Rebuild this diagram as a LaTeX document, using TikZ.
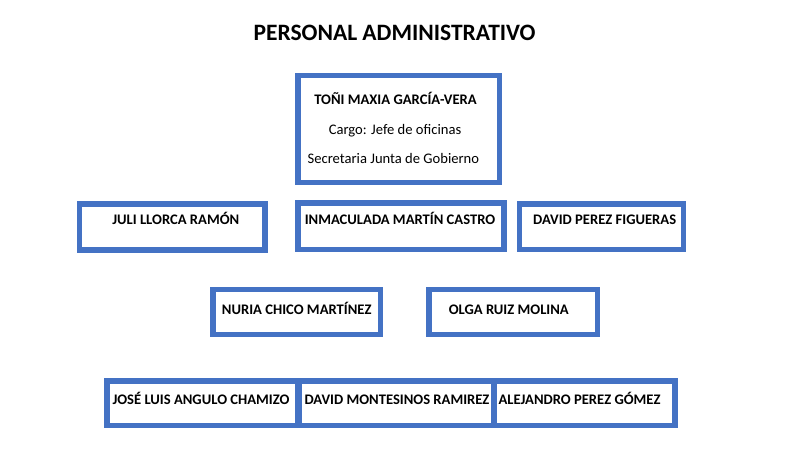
\documentclass[tikz,border=0pt]{standalone}
\usepackage{fontspec}
\setmainfont{Carlito}
\usepackage{tikz}
\usepackage{xcolor}
\definecolor{boxblue}{HTML}{4472C4}

\begin{document}
\begin{tikzpicture}[x=1pt, y=-1pt, box node/.style={rectangle, draw=boxblue, line width=5.5pt, inner sep=0pt}, name node/.style={anchor=base, inner sep=0pt, font=\fontsize{14.6}{17}\selectfont\bfseries}, info node/.style={anchor=base, inner sep=0pt, font=\fontsize{14.6}{17}\selectfont}]
\useasboundingbox (0,0) rectangle (789,459);
\node[anchor=base, inner sep=0pt, font=\fontsize{23.5}{28}\selectfont\bfseries] (title) at (394.5,40) {PERSONAL ADMINISTRATIVO};
% jefa
\node[box node, minimum width=201.5, minimum height=106.8] (toni) at (398.5,128.9) {};
\node[name node] (toni1) at (395.5,104) {TOÑI MAXIA GARCÍA-VERA};
\node[info node] (toni2) at (395,134.3) {Cargo: Jefe de oficinas};
\node[info node] (toni3) at (393.4,163.3) {Secretaria Junta de Gobierno};
% fila 2
\node[box node, minimum width=185.5, minimum height=46.2] (juli) at (172.2,226.9) {};
\node[box node, minimum width=206.2, minimum height=46.5] (inma) at (400.9,226) {};
\node[box node, minimum width=163.8, minimum height=45.5] (davidp) at (601.4,226.5) {};
\node[name node] (juli1) at (175.8,224) {JULI LLORCA RAMÓN};
\node[name node] (inma1) at (400,224) {INMACULADA MARTÍN CASTRO};
\node[name node] (davidp1) at (604.7,224) {DAVID PEREZ FIGUERAS};
% fila 3
\node[box node, minimum width=167.8, minimum height=45.1] (nuria) at (296.7,312) {};
\node[box node, minimum width=168.5, minimum height=45.1] (olga) at (513,312) {};
\node[name node] (nuria1) at (296.7,314.3) {NURIA CHICO MARTÍNEZ};
\node[name node] (olga1) at (508.8,314.3) {OLGA RUIZ MOLINA};
% fila 4
\node[box node, minimum width=192.2, minimum height=44.5] (jose) at (202.9,403.3) {};
\node[box node, minimum width=196.2, minimum height=44.5] (davidm) at (395.9,403.3) {};
\node[box node, minimum width=181.2, minimum height=44.5] (alejandro) at (584.4,403.3) {};
\node[name node] (jose1) at (201,404) {JOSÉ LUIS ANGULO CHAMIZO};
\node[name node] (davidm1) at (397,404) {DAVID MONTESINOS RAMIREZ};
\node[name node] (alejandro1) at (579.5,404) {ALEJANDRO PEREZ GÓMEZ};
\end{tikzpicture}
\end{document}
